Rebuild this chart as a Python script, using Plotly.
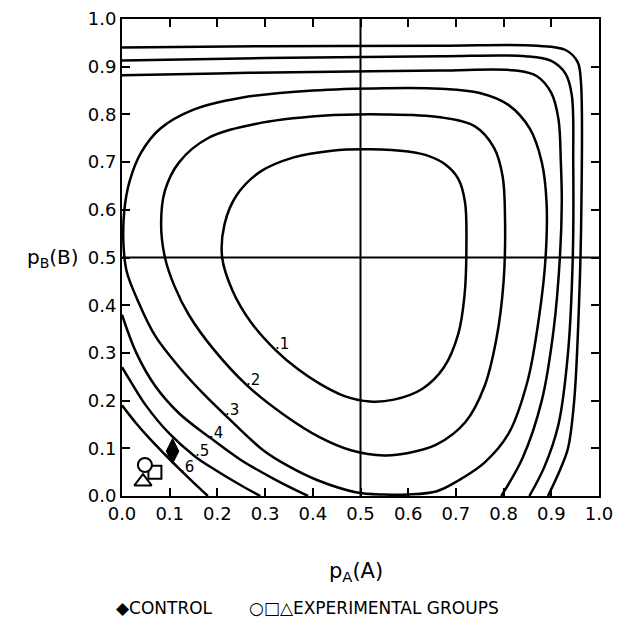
import plotly.graph_objects as go

# ---------------- data ----------------
tick_vals = [0.0, 0.1, 0.2, 0.3, 0.4, 0.5, 0.6, 0.7, 0.8, 0.9, 1.0]
tick_text = ["0.0", "0.1", "0.2", "0.3", "0.4", "0.5", "0.6", "0.7", "0.8", "0.9", "1.0"]

# contour .1 (closed loop)
c1_x = [0.52, 0.60, 0.645, 0.678, 0.705, 0.719, 0.722, 0.718, 0.705, 0.675, 0.63, 0.57, 0.52, 0.465, 0.415, 0.37,
        0.322, 0.27, 0.232, 0.21, 0.215, 0.24, 0.29, 0.36, 0.44, 0.52]
c1_y = [0.727, 0.722, 0.712, 0.695, 0.665, 0.617, 0.52, 0.42, 0.34, 0.27, 0.225, 0.202, 0.198, 0.21, 0.235, 0.265,
        0.306, 0.365, 0.43, 0.50, 0.57, 0.63, 0.68, 0.71, 0.724, 0.727]

# contour .2 (closed loop)
c2_x = [0.55, 0.667, 0.74, 0.78, 0.798, 0.803, 0.80, 0.785, 0.76, 0.72, 0.66, 0.60, 0.55, 0.48, 0.415, 0.34, 0.262,
        0.19, 0.14, 0.11, 0.09, 0.082, 0.09, 0.12, 0.18, 0.28, 0.42, 0.55]
c2_y = [0.80, 0.794, 0.775, 0.73, 0.67, 0.58, 0.45, 0.33, 0.23, 0.155, 0.108, 0.09, 0.085, 0.096, 0.123, 0.17, 0.232,
        0.31, 0.38, 0.44, 0.50, 0.57, 0.64, 0.70, 0.75, 0.78, 0.797, 0.80]

# contour .3 (closed loop, grazing the left and bottom axes)
c3_x = [0.55, 0.667, 0.75, 0.81, 0.855, 0.88, 0.89, 0.888, 0.875, 0.85, 0.81, 0.76, 0.706, 0.66, 0.60, 0.55,
        0.49, 0.41, 0.35, 0.296, 0.218, 0.17, 0.12, 0.07, 0.033, 0.01, 0.003, 0.005, 0.016, 0.04, 0.08, 0.15,
        0.25, 0.40, 0.55]
c3_y = [0.855, 0.854, 0.845, 0.82, 0.77, 0.70, 0.617, 0.50, 0.38, 0.24, 0.13, 0.07, 0.033, 0.01, 0.003, 0.003,
        0.008, 0.033, 0.062, 0.096, 0.168, 0.215, 0.27, 0.335, 0.41, 0.47, 0.53, 0.60, 0.66, 0.72, 0.77, 0.81,
        0.835, 0.85, 0.855]

# contour .4 (two pieces)
c4a_x = [0.0, 0.03, 0.07, 0.12, 0.185, 0.25, 0.32, 0.39]
c4a_y = [0.38, 0.30, 0.23, 0.173, 0.122, 0.075, 0.035, 0.0]
c4b_x = [0.0, 0.20, 0.40, 0.667, 0.825, 0.87, 0.90, 0.915, 0.92, 0.922, 0.918, 0.905, 0.88, 0.84, 0.795]
c4b_y = [0.882, 0.886, 0.889, 0.892, 0.892, 0.88, 0.845, 0.79, 0.70, 0.617, 0.50, 0.35, 0.20, 0.08, 0.0]

# contour .5 (two pieces)
c5a_x = [0.0, 0.017, 0.05, 0.10, 0.153, 0.20, 0.25, 0.29]
c5a_y = [0.27, 0.242, 0.19, 0.13, 0.083, 0.052, 0.022, 0.0]
c5b_x = [0.0, 0.30, 0.667, 0.846, 0.90, 0.93, 0.943, 0.946, 0.945, 0.935, 0.915, 0.885, 0.854]
c5b_y = [0.913, 0.918, 0.922, 0.922, 0.912, 0.885, 0.84, 0.70, 0.50, 0.30, 0.15, 0.06, 0.0]

# contour .6 (two pieces)
c6a_x = [0.0, 0.03, 0.06, 0.09, 0.125, 0.15, 0.18]
c6a_y = [0.19, 0.152, 0.118, 0.087, 0.052, 0.028, 0.0]
c6b_x = [0.0, 0.30, 0.667, 0.87, 0.93, 0.955, 0.962, 0.963, 0.958, 0.948, 0.935, 0.918, 0.893]
c6b_y = [0.94, 0.943, 0.944, 0.944, 0.935, 0.91, 0.87, 0.60, 0.40, 0.20, 0.10, 0.054, 0.0]

label_text = [".1", ".2", ".3", ".4", ".5", ".6"]
label_x = [0.335, 0.275, 0.231, 0.197, 0.168, 0.136]
label_y = [0.319, 0.244, 0.181, 0.133, 0.094, 0.060]

control_x = [0.106]
control_y = [0.094]
circle_x = [0.048]
circle_y = [0.065]
square_x = [0.069]
square_y = [0.050]
triangle_x = [0.044]
triangle_y = [0.030]

# ---------------- figure ----------------
fig = go.Figure()

line_style = dict(color="black", width=2.5)
curves = [(c1_x, c1_y), (c2_x, c2_y), (c3_x, c3_y), (c4a_x, c4a_y), (c4b_x, c4b_y),
          (c5a_x, c5a_y), (c5b_x, c5b_y), (c6a_x, c6a_y), (c6b_x, c6b_y)]
for cx, cy in curves:
    fig.add_trace(go.Scatter(x=cx, y=cy, mode="lines", line=dict(shape="spline", smoothing=1.0, **line_style),
                             hoverinfo="skip", showlegend=False, cliponaxis=True))

mk_line = dict(color="black", width=2)
fig.add_trace(go.Scatter(x=square_x, y=square_y, mode="markers",
                         marker=dict(symbol="square", size=13, color="white", line=mk_line), showlegend=False))
fig.add_trace(go.Scatter(x=triangle_x, y=triangle_y, mode="markers",
                         marker=dict(symbol="triangle-up", size=15, color="white", line=mk_line), showlegend=False))
fig.add_trace(go.Scatter(x=circle_x, y=circle_y, mode="markers",
                         marker=dict(symbol="circle", size=14, color="white", line=mk_line), showlegend=False))
fig.add_trace(go.Scatter(x=control_x, y=control_y, mode="markers",
                         marker=dict(symbol="diamond-tall", size=18, color="black", line=dict(color="black", width=1)),
                         showlegend=False))

for t, lx, ly in zip(label_text, label_x, label_y):
    fig.add_annotation(x=lx, y=ly, text=t, showarrow=False, xref="x", yref="y", xanchor="center", yanchor="middle",
                       font=dict(family="DejaVu Sans", size=15, color="black"))

# cross lines at 0.5
fig.add_shape(type="line", x0=0.5, x1=0.5, y0=0, y1=1, xref="x", yref="y", line=dict(color="black", width=2))
fig.add_shape(type="line", x0=0, x1=1, y0=0.5, y1=0.5, xref="x", yref="y", line=dict(color="black", width=2))

axis_common = dict(range=[0, 1], tickvals=tick_vals, ticktext=tick_text, ticks="inside", ticklen=8,
                   tickwidth=2, tickcolor="black", showline=True, linecolor="black", linewidth=2,
                   mirror="ticks", showgrid=False, zeroline=False, automargin=False,
                   ticklabeloverflow="allow",
                   tickfont=dict(family="DejaVu Sans", size=18, color="black"))
fig.update_xaxes(**axis_common)
fig.update_yaxes(**axis_common)

fig.add_annotation(x=0.4906, y=-0.16, xref="paper", yref="paper", xanchor="center", yanchor="middle",
                   showarrow=False, text="p<sub>A</sub>(A)", font=dict(family="DejaVu Sans", size=21, color="black"))
fig.add_annotation(x=-0.1447, y=0.5, xref="paper", yref="paper", xanchor="center", yanchor="middle",
                   showarrow=False, text="p<sub>B</sub>(B)", font=dict(family="DejaVu Sans", size=20, color="black"))
fig.add_annotation(x=0.195, y=-0.235, xref="paper", yref="paper", xanchor="right", yanchor="middle", showarrow=False,
                   text="◆CONTROL", font=dict(family="DejaVu Sans", size=17, color="black"))
fig.add_annotation(x=0.262, y=-0.235, xref="paper", yref="paper", xanchor="left", yanchor="middle", showarrow=False,
                   text="○□△EXPERIMENTAL GROUPS", font=dict(family="DejaVu Sans", size=17, color="black"))

# the page body adds an 8 px offset, so margins are reduced by 8 on the left/top
fig.update_layout(width=622, height=640, margin=dict(l=114, r=31, t=11, b=152),
                  plot_bgcolor="white", paper_bgcolor="white", showlegend=False)

fig.write_html("out.html")
